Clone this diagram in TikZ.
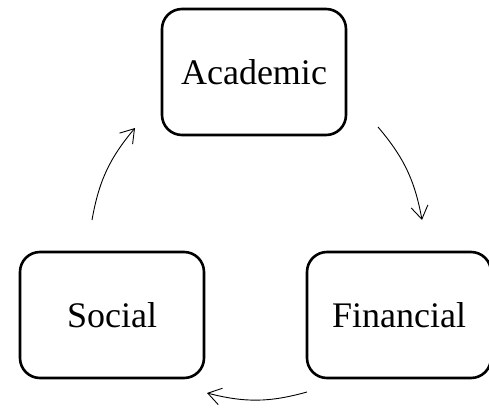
\documentclass[tikz,border=0pt]{standalone}
\usepackage{fontspec}
\setmainfont{Liberation Serif}
\usetikzlibrary{arrows.meta}

\begin{document}
\begin{tikzpicture}[
	x = 1pt,
	y = 1pt,
	>={Straight Barb[length=13pt,width=17pt]},
	box/.style = {
		draw,
		line width = 2.6pt,
		rounded corners = 20pt,
		minimum width = 184pt,
		minimum height = 126pt,
		font = \fontsize{36}{42}\selectfont
	},
	cycle/.style = {
		->,
		line width = 0.9pt,
		bend left = 15
	}
	]
	\useasboundingbox (0,0) rectangle (489,408);
	\node[box] (academic) at (254,336) {Academic};
	\node[box] (social) at (112,93) {Social};
	\node[box] (financial) at (399,93) {Financial};
	\coordinate (s1) at (92,188);
	\coordinate (a1) at (135,280);
	\coordinate (a2) at (378,281);
	\coordinate (f1) at (422,188);
	\coordinate (f2) at (307,16);
	\coordinate (s2) at (207,15);
	\draw[cycle] (s1) to (a1);
	\draw[cycle] (a2) to (f1);
	\draw[cycle] (f2) to (s2);
\end{tikzpicture}
\end{document}
